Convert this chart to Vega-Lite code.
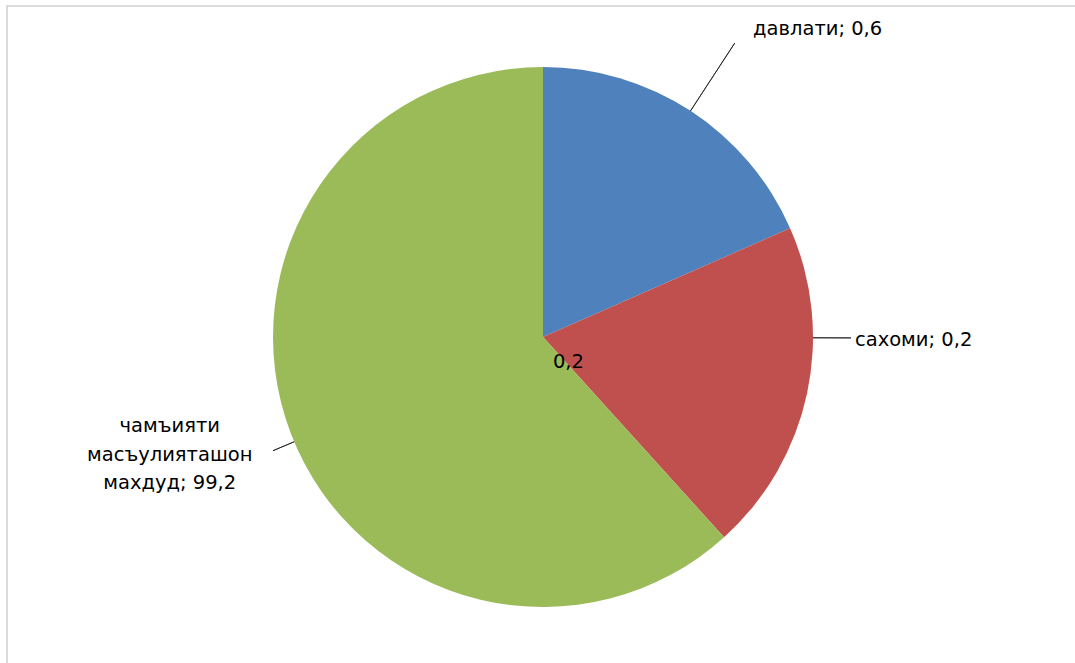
{
  "$schema": "https://vega.github.io/schema/vega-lite/v6.json",
  "width": 1072,
  "height": 662,
  "autosize": {"type": "none"},
  "padding": {"left": 7, "top": 6, "right": 0, "bottom": 0},
  "background": "white",
  "view": {"stroke": "#cfcfcf", "strokeWidth": 1.5},
  "config": {
    "view": {"stroke": "#cfcfcf", "strokeWidth": 1.5},
    "style": {"view": {"stroke": "#cfcfcf", "strokeWidth": 1.5}, "cell": {"stroke": "#cfcfcf", "strokeWidth": 1.5}},
    "font": "DejaVu Sans",
    "text": {"font": "DejaVu Sans", "fontSize": 19.5, "color": "#000000"}
  },
  "data": {
    "values": [
      {"name": "давлати", "value": 0.6, "share": 18.4, "label": "давлати; 0,6"},
      {"name": "сахоми", "value": 0.2, "share": 19.9, "label": "сахоми; 0,2", "inner_label": "0,2"},
      {"name": "чамъияти масъулияташон махдуд", "value": 99.2, "share": 61.7, "label": "чамъияти\nмасъулияташон\nмахдуд; 99,2"}
    ]
  },
  "transform": [
    {"stack": "share", "groupby": [], "sort": [{"field": "name", "order": "ascending"}], "as": ["s0", "s1"]}
  ],
  "layer": [
    {
      "mark": {"type": "arc", "radius": 270, "stroke": null},
      "encoding": {
        "theta": {"field": "s0", "type": "quantitative", "scale": {"domain": [0, 100]}},
        "theta2": {"field": "s1"},
        "color": {
          "field": "name",
          "type": "nominal",
          "scale": {
            "domain": ["давлати", "сахоми", "чамъияти масъулияташон махдуд"],
            "range": ["#4F81BD", "#C0504D", "#9BBB59"]
          },
          "legend": null
        }
      }
    },
    {
      "mark": {
        "type": "arc", "radius": 351, "radius2": 270, "fillOpacity": 0, "stroke": "#1a1a1a", "strokeWidth": 0.8,
        "thetaOffset": {"expr": "0.5*(scale('theta', datum.s1) - scale('theta', datum.s0))"},
        "theta2Offset": {"expr": "0.5*(scale('theta', datum.s1) - scale('theta', datum.s0))"}
      },
      "encoding": {
        "theta": {"field": "s0", "type": "quantitative"},
        "theta2": {"field": "s0"},
        "strokeOpacity": {"condition": {"test": "datum.name === 'давлати'", "value": 1}, "value": 0}
      }
    },
    {
      "mark": {
        "type": "arc", "radius": 308, "radius2": 270, "fillOpacity": 0, "stroke": "#1a1a1a", "strokeWidth": 0.8,
        "thetaOffset": {"expr": "0.334*(scale('theta', datum.s1) - scale('theta', datum.s0))"},
        "theta2Offset": {"expr": "0.334*(scale('theta', datum.s1) - scale('theta', datum.s0))"}
      },
      "encoding": {
        "theta": {"field": "s0", "type": "quantitative"},
        "theta2": {"field": "s0"},
        "strokeOpacity": {"condition": {"test": "datum.name === 'сахоми'", "value": 1}, "value": 0}
      }
    },
    {
      "mark": {
        "type": "arc", "radius": 293, "radius2": 270, "fillOpacity": 0, "stroke": "#1a1a1a", "strokeWidth": 0.8,
        "thetaOffset": {"expr": "0.492*(scale('theta', datum.s1) - scale('theta', datum.s0))"},
        "theta2Offset": {"expr": "0.492*(scale('theta', datum.s1) - scale('theta', datum.s0))"}
      },
      "encoding": {
        "theta": {"field": "s0", "type": "quantitative"},
        "theta2": {"field": "s0"},
        "strokeOpacity": {"condition": {"test": "datum.name === 'чамъияти масъулияташон махдуд'", "value": 1}, "value": 0}
      }
    },
    {
      "mark": {"type": "text", "radius": 368, "align": "left", "baseline": "alphabetic", "dx": 9, "dy": 6.5,
        "thetaOffset": {"expr": "0.5*(scale('theta', datum.s1) - scale('theta', datum.s0))"}},
      "encoding": {
        "theta": {"field": "s0", "type": "quantitative"},
        "text": {"condition": {"test": "datum.name === 'давлати'", "field": "label"}, "value": ""}
      }
    },
    {
      "mark": {"type": "text", "radius": 318, "align": "left", "baseline": "alphabetic", "dx": 1, "dy": -57,
        "thetaOffset": {"expr": "0.5*(scale('theta', datum.s1) - scale('theta', datum.s0))"}},
      "encoding": {
        "theta": {"field": "s0", "type": "quantitative"},
        "text": {"condition": {"test": "datum.name === 'сахоми'", "field": "label"}, "value": ""}
      }
    },
    {
      "mark": {"type": "text", "radius": 400, "align": "center", "baseline": "alphabetic", "dy": -48.7, "lineBreak": "\n", "lineHeight": 28.5,
        "thetaOffset": {"expr": "0.5*(scale('theta', datum.s1) - scale('theta', datum.s0))"}},
      "encoding": {
        "theta": {"field": "s0", "type": "quantitative"},
        "text": {"condition": {"test": "datum.name === 'чамъияти масъулияташон махдуд'", "field": "label"}, "value": ""}
      }
    },
    {
      "mark": {"type": "text", "radius": 26, "align": "center", "baseline": "alphabetic", "dy": 25.6,
        "thetaOffset": {"expr": "0.5*(scale('theta', datum.s1) - scale('theta', datum.s0))"}},
      "encoding": {
        "theta": {"field": "s0", "type": "quantitative"},
        "text": {"condition": {"test": "datum.name === 'сахоми'", "field": "inner_label"}, "value": ""}
      }
    }
  ]
}
